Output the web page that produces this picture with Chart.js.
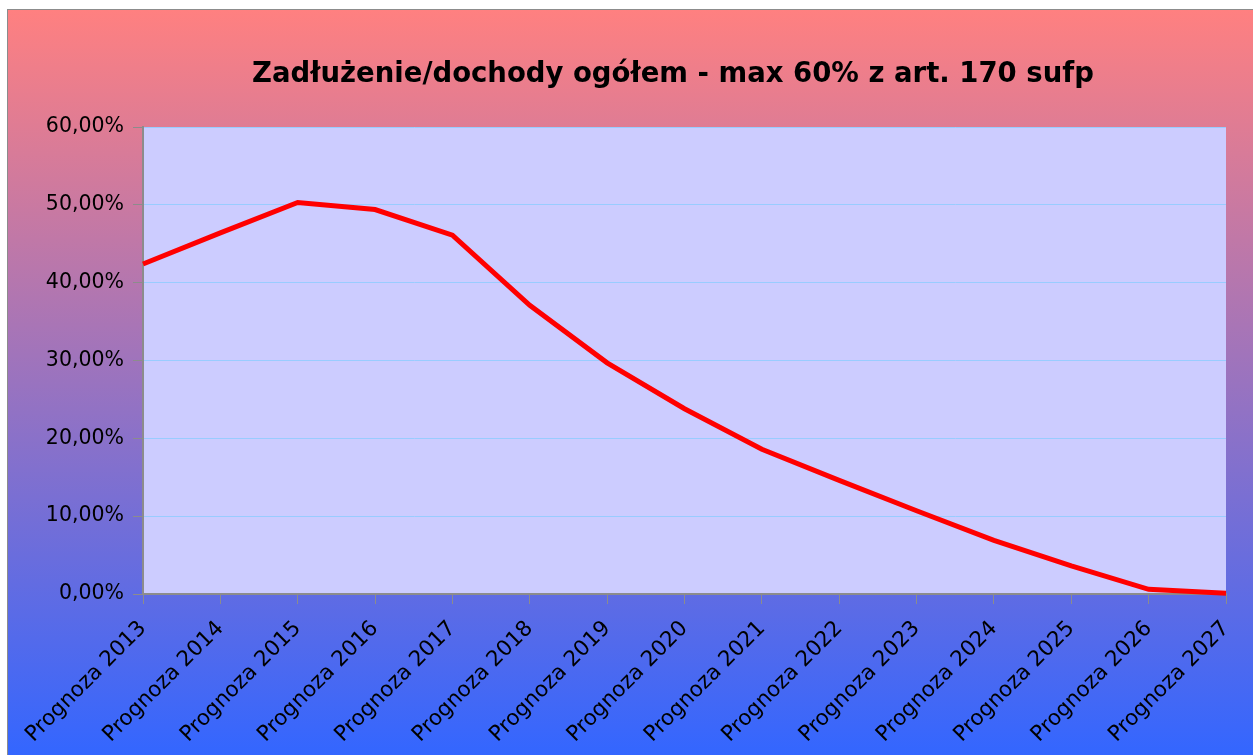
<!DOCTYPE html>
<html>
<head>
<meta charset="utf-8">
<title>Zadłużenie/dochody ogółem</title>
<script src="https://cdn.jsdelivr.net/npm/chart.js@4.4.0/dist/chart.umd.min.js"></script>
<style>
    html, body { margin: 0; padding: 0; background: #ffffff; }
    #frame {
        position: absolute; left: 7px; top: 9px; width: 1260px; height: 760px;
        border-left: 1px solid #8c8c8c; border-top: 1px solid #8c8c8c;
        background: linear-gradient(to bottom, #ff8080 0px, #3366ff 746px);
    }
    #wrap { position: absolute; left: 0; top: 0; width: 1253px; height: 755px; }
</style>
</head>
<body>
<div id="frame"></div>
<div id="wrap"><canvas id="debtChart" width="1253" height="755"></canvas></div>
<script>
/* ── Chart data ── */
var chartTitle = 'Zadłużenie/dochody ogółem - max 60% z art. 170 sufp';
var years = ['Prognoza 2013', 'Prognoza 2014', 'Prognoza 2015', 'Prognoza 2016', 'Prognoza 2017',
             'Prognoza 2018', 'Prognoza 2019', 'Prognoza 2020', 'Prognoza 2021', 'Prognoza 2022',
             'Prognoza 2023', 'Prognoza 2024', 'Prognoza 2025', 'Prognoza 2026', 'Prognoza 2027'];
var debtRatio = [42.4, 46.4, 50.3, 49.4, 46.1, 37.1, 29.7, 23.8, 18.6, 14.6, 10.7, 6.9, 3.6, 0.6, 0.1];
var yMin = 0, yMax = 60, yStep = 10;

var labelFont = 'DejaVu Sans';

// plot area fill + title text
var plotBackground = {
    id: 'plotBackground',
    beforeDraw: function (chart) {
        var a = chart.chartArea, ctx = chart.ctx;
        ctx.save();
        ctx.fillStyle = '#ccccff';
        ctx.fillRect(a.left, a.top, a.right - a.left, a.bottom - a.top);
        ctx.fillStyle = '#000000';
        ctx.font = 'bold 27.5px "DejaVu Sans"';
        ctx.textAlign = 'center';
        ctx.textBaseline = 'middle';
        ctx.fillText(chartTitle, 673, 75);
        ctx.restore();
    }
};

var ctx = document.getElementById('debtChart').getContext('2d');
new Chart(ctx, {
    type: 'line',
    data: {
        labels: years,
        datasets: [{
            data: debtRatio,
            borderColor: '#ff0000',
            borderWidth: 5,
            pointRadius: 0,
            tension: 0,
            fill: false,
            clip: false
        }]
    },
    options: {
        responsive: false,
        animation: false,
        layout: { padding: { left: 0, top: 127, right: 27, bottom: 0 } },
        plugins: { legend: { display: false }, tooltip: { enabled: false } },
        scales: {
            x: {
                offset: false,
                grid: { drawOnChartArea: false, drawTicks: true, tickLength: 10, tickColor: '#8c8c8c' },
                border: { color: '#8c8c8c', width: 2 },
                ticks: {
                    maxRotation: 45, minRotation: 45, autoSkip: false, padding: 12,
                    color: '#000000', font: { family: labelFont, size: 21.5 }
                },
                afterFit: function (scale) {
                    scale.height = 161;
                    scale.paddingLeft = 0;
                    scale.paddingRight = 0;
                }
            },
            y: {
                min: yMin, max: yMax,
                grid: { color: '#99ccff', tickColor: '#8c8c8c', tickLength: 10, lineWidth: 1 },
                border: { color: '#8c8c8c', width: 2 },
                ticks: {
                    stepSize: yStep, padding: 9, color: '#000000',
                    font: { family: labelFont, size: 20.5 },
                    callback: function (v) { return v.toFixed(2).replace('.', ',') + '%'; }
                },
                afterFit: function (scale) { scale.width = 143; }
            }
        }
    },
    plugins: [plotBackground]
});
</script>
</body>
</html>
